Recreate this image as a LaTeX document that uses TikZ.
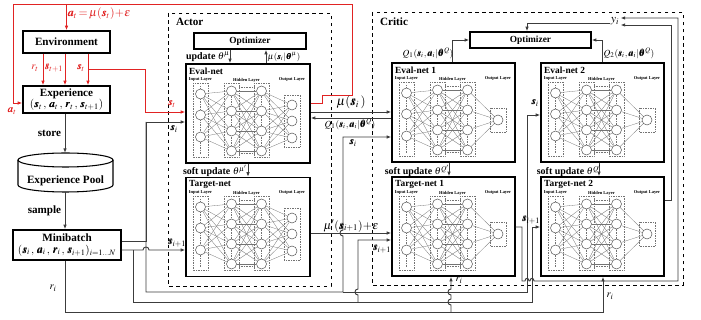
\documentclass[tikz,border=0pt]{standalone}
\usepackage{amsmath,amssymb}
\usepackage{mathptmx}
\usepackage{bm}
\usepackage{fontspec}
\setmainfont{Liberation Serif}
\usetikzlibrary{arrows.meta,positioning,calc}

\definecolor{actred}{RGB}{225,35,35}
\definecolor{wiregray}{RGB}{60,60,60}

\newcommand{\vs}{\bm{s}}
\newcommand{\va}{\bm{a}}

\tikzset{
  wire/.style={draw=wiregray, line width=0.8pt},
  redwire/.style={draw=actred, line width=0.8pt},
  blockbox/.style={draw, line width=1.1pt, font=\fontsize{9.5}{11}\selectfont\bfseries, align=center, inner sep=0pt},
  netbox/.style={draw, line width=1.1pt, minimum width=3.72cm, minimum height=2.97cm, inner sep=0pt},
  neuron/.style={circle, draw=black!70, line width=0.4pt, fill=white, minimum size=0.3cm, inner sep=0pt},
  layerbox/.style={draw=black!55, densely dotted, line width=0.4pt},
  link/.style={draw=black!55, line width=0.25pt},
  tinytext/.style={font=\fontsize{3.8}{4}\selectfont\bfseries, inner sep=0pt},
  nettitle/.style={font=\fontsize{8}{9}\selectfont\bfseries, anchor=west, inner sep=0pt},
  lbl/.style={font=\fontsize{9}{10}\selectfont, inner sep=0.5pt},
  smalllbl/.style={font=\fontsize{8.5}{9}\selectfont\bfseries, inner sep=0.5pt},
  redlbl/.style={lbl, text=actred},
}

% one small network drawn inside a box: name, left, top, title, output rows, output box top/bottom
\newcommand{\drawnet}[7]{%
  \begin{scope}[shift={(#2,#3)}]
    \draw[layerbox] (7,19) rectangle (22,93);
    \draw[layerbox] (38,19) rectangle (53,93);
    \draw[layerbox] (68,19) rectangle (83,93);
    \draw[layerbox] (98,#6) rectangle (114,#7);
    \draw[layerbox] (53,23) -- (68,23) (53,89) -- (68,89);
    \draw[densely dotted, black!55] (14.5,22) -- (14.5,90) (45.5,22) -- (45.5,90) (75.5,22) -- (75.5,90);
    \node[nettitle] (#1-title) at (3,7) {#4};
    \node[tinytext] (#1-lin) at (14.5,16) {Input Layer};
    \node[tinytext] (#1-lhid) at (60.5,16) {Hidden Layer};
    \node[tinytext] (#1-lout) at (106,16) {Output Layer};
    \foreach \k/\y in {1/30,2/51,3/73}
      \node[neuron] (#1-i\k) at (14.5,\y) {};
    \foreach \k/\y in {1/27,2/47,3/67,4/87} {
      \node[neuron] (#1-a\k) at (45.5,\y) {};
      \node[neuron] (#1-b\k) at (75.5,\y) {};
    }
    \foreach \y [count=\k] in {#5}
      \node[neuron] (#1-o\k) at (106,\y) {};
    \foreach \m in {1,2,3}
      \foreach \k in {1,...,4}
        \draw[link] (#1-i\m) -- (#1-a\k);
    \foreach \m in {1,...,4}
      \foreach \k in {1,...,4}
        \draw[link] (#1-a\m) -- (#1-b\k);
    \foreach \y [count=\m] in {#5}
      \foreach \k in {1,...,4}
        \draw[link] (#1-b\k) -- (#1-o\m);
  \end{scope}}

\begin{document}
\begin{tikzpicture}[x=0.03cm, y=-0.03cm, >={Latex[length=4pt,width=3pt]}]
  \useasboundingbox (0,0) rectangle (701,320);

  % left column
  \node (env) [blockbox, minimum width=2.61cm, minimum height=0.66cm] at (66.5,42) {Environment};
  \node (exper) [blockbox, minimum width=2.61cm, minimum height=0.81cm] at (66.5,99.5)
    {Experience\\[-1pt]$(\vs_t\,,\,\va_t\,,\,\bm{r}_t\,,\,\vs_{t+1})$};
  \draw[line width=0.9pt] (18,160) -- (18,185) arc[start angle=180, end angle=360, x radius=1.425cm, y radius=0.21cm] -- (113,160);
  \draw[line width=0.9pt] (65.5,160) ellipse[x radius=1.425cm, y radius=0.21cm];
  \node (pool) [font=\fontsize{9.5}{11}\selectfont\bfseries] at (65.5,181) {Experience Pool};
  \coordinate (pooltop) at (65,153);
  \coordinate (poolbot) at (65,192);
  \node (mini) [blockbox, minimum width=3.24cm, minimum height=0.9cm] at (67,245)
    {Minibatch\\[-1pt]$(\vs_i\,,\,\va_i\,,\,\bm{r}_i\,,\,\vs_{i+1})_{i=1\ldots N}$};

  % actor
  \draw[dashed, line width=0.8pt] (168,13) rectangle (331,286);
  \node (actorlbl) [font=\fontsize{9.5}{11}\selectfont\bfseries, anchor=west] at (172,22) {Actor};
  \node (aopt) [blockbox, font=\fontsize{8}{9}\selectfont\bfseries, minimum width=3.36cm, minimum height=0.48cm] at (250,41) {Optimizer};
  \node (aeval) [netbox] at (248,113.5) {};
  \drawnet{ae}{186}{64}{Eval-net}{41,57,74}{31}{83}
  \node (atgt) [netbox] at (248,227) {};
  \drawnet{at}{186}{177}{Target-net}{41,57,74}{31}{83}

  % critic
  \draw[dashed, line width=0.8pt] (372,12) rectangle (683,285);
  \node (criticlbl) [font=\fontsize{9.5}{11}\selectfont\bfseries, anchor=west] at (376,22) {Critic};
  \node (copt) [blockbox, font=\fontsize{8}{9}\selectfont\bfseries, minimum width=3.63cm, minimum height=0.48cm] at (530.5,40) {Optimizer};
  \node (eval1) [netbox, minimum width=3.69cm] at (453.5,112.5) {};
  \drawnet{ce1}{392}{63}{Eval-net 1}{57}{45}{69}
  \node (eval2) [netbox, minimum width=3.69cm] at (602.5,112.5) {};
  \drawnet{ce2}{541}{63}{Eval-net 2}{57}{45}{69}
  \node (tgt1) [netbox, minimum width=3.69cm] at (453.5,226.5) {};
  \drawnet{ct1}{392}{177}{Target-net 1}{57}{45}{69}
  \node (tgt2) [netbox, minimum width=3.69cm] at (602.5,226.5) {};
  \drawnet{ct2}{541}{177}{Target-net 2}{57}{45}{69}
  \node (yi) [font=\fontsize{10}{11}\selectfont, inner sep=1pt] at (615,21) {$y_i$};

  % red: environment loop
  \draw[redwire,->] (aeval.east |- 0,103) -| (322,95) -| (352,4) -| (13,103) -- (exper.west |- 0,103);
  \draw[redwire,->] (env.north |- 0,4) -- (env.north);
  \draw[redwire,->] (env.south -| 43,0) -- (exper.north -| 43,0);
  \draw[redwire,->] (env.south -| 65,0) -- (exper.north -| 65,0);
  \draw[redwire,->] (env.south -| 88,0) -- (exper.north -| 88,0);
  \coordinate (stsplit) at (88,69);
  \draw[redwire,->] (stsplit) -| (145,112) -- (aeval.west |- 0,112);
  \node (lact) [redlbl, font=\fontsize{10}{11}\selectfont] at (99,14) {$\va_t\!=\!\mu(\vs_t)\!+\!\varepsilon$};
  \node (lat) [redlbl] at (12,111) {$\va_t$};
  \node (lrt) [redlbl] at (35,68) {$r_t$};
  \node (lst1) [redlbl] at (54,68) {$\vs_{t+1}$};
  \node (lst) [redlbl] at (81,68) {$\vs_t$};
  \node (lsta) [redlbl] at (172,104) {$\vs_t$};

  % store and sample
  \draw[wire,->] (exper.south -| pooltop) -- (pooltop);
  \draw[wire,->] (poolbot) -- (mini.north -| poolbot);
  \node (lstore) [smalllbl, font=\fontsize{9.5}{11}\selectfont\bfseries, anchor=east] at (62,133) {store};
  \node (lsample) [smalllbl, font=\fontsize{9.5}{11}\selectfont\bfseries, anchor=east] at (62,211) {sample};

  % s_i from the minibatch
  \draw[wire,->] (mini.east |- 0,241) -| (146,122) -- (aeval.west |- 0,122);
  \draw[wire,->] (146,122) -- (146,292) -- (343,292) -- (343,236) .. controls (339,236) and (339,230) .. (343,230) -- (343,137) -- (eval1.west |- 0,137);
  \draw[wire,->] (343,292) -| (527,115) -- (eval2.west |- 0,115);
  \node (lsi1) [lbl] at (174,129) {$\vs_i$};
  \node (lsi2) [lbl] at (353,143) {$\vs_i$};
  \node (lsi3) [lbl] at (535,103) {$\vs_i$};

  % s_{i+1} from the minibatch
  \draw[wire,->] (mini.east |- 0,250) -- (143,250) .. controls (143,246) and (149,246) .. (149,250) -- (atgt.west |- 0,250);
  \draw[wire,->] (133,250) -- (133,302) -| (532,227) -- (tgt2.west |- 0,227);
  \draw[wire,->] (358,302) -- (358,295) .. controls (354,295) and (354,289) .. (358,289) -- (358,240) -- (tgt1.west |- 0,240);
  \node (lsn1) [lbl] at (177,243) {$\vs_{i+1}$};
  \node (lsn2) [lbl] at (382,249) {$\vs_{i+1}$};
  \node (lsn3) [lbl] at (531,220) {$\vs_{i+1}$};

  % r_i from the minibatch
  \draw[wire,->] (mini.south -| 65,0) -- (65,312) -| (tgt2.south -| 603,0);
  \draw[wire,->] (451,312) -- (451,305) .. controls (447,305) and (447,299) .. (451,299) -- (451,295) .. controls (447,295) and (447,289) .. (451,289) -- (tgt1.south -| 451,0);
  \node (lri1) [lbl] at (53,288) {$r_i$};
  \node (lri2) [lbl] at (459,280) {$r_i$};
  \node (lri3) [lbl] at (610,296) {$r_i$};

  % actor <-> critic
  \draw[wire,->] (aeval.east |- 0,112) -- (eval1.west |- 0,112);
  \draw[wire,->] (eval1.west |- 0,118) -- (aeval.east |- 0,118);
  \draw[wire,->] (atgt.east |- 0,233) -- (tgt1.west |- 0,233);
  \node (lmu) [lbl, font=\fontsize{11}{12}\selectfont] at (351,102) {$\mu(\vs_i\,)$};
  \node (lq1a) [lbl, font=\fontsize{8}{9}\selectfont] at (350,124) {$Q_1(\vs_i,\va_i|\bm{\theta}^{Q})$};
  \node (lmut) [lbl, font=\fontsize{10}{11}\selectfont] at (351,226) {$\mu'(\vs_{i+1})\!+\!\varepsilon$};

  % targets to y_i, y_i to optimizer
  \draw[wire,->] (tgt1.east |- 0,227) -- (522,227) -- (522,281) -- (525,281) .. controls (525,277.5) and (529,277.5) .. (529,281) -- (530,281) .. controls (530,277.5) and (534,277.5) .. (534,281) -- (678,281) |- (yi.east |- 0,18);
  \draw[wire,->] (tgt2.east |- 0,200) -| (671,25) -- (yi.east |- 0,25);
  \draw[wire,->] (yi.west |- 0,23) -| (copt.north -| 527,0);
  \draw[wire,->] (eval1.north -| 452,0) |- (copt.west);
  \draw[wire,->] (eval2.north -| 602,0) |- (copt.east);
  \node (lq1) [lbl, font=\fontsize{8}{9}\selectfont] at (428,53) {$Q_1(\vs_i,\va_i|\bm{\theta}^{Q})$};
  \node (lq2) [lbl, font=\fontsize{8}{9}\selectfont] at (629,53) {$Q_2(\vs_i,\va_i|\bm{\theta}^{Q})$};

  % optimizers and soft updates
  \draw[wire,->] (aopt.south -| 230,0) -- (aeval.north -| 230,0);
  \draw[wire,->] (aeval.north -| 266,0) -- (aopt.south -| 266,0);
  \node (lupd) [smalllbl] at (208,57) {update $\theta^{\mu}$};
  \node (lmus) [lbl, font=\fontsize{7.5}{8}\selectfont] at (284,57) {$\mu(\vs_i|\bm{\theta}^{\mu})$};
  \draw[wire,->] (aeval.south -| 248,0) -- (atgt.north -| 248,0);
  \draw[wire,->] (eval1.south -| 449,0) -- (tgt1.north -| 449,0);
  \draw[wire,->] (eval2.south -| 599,0) -- (tgt2.north -| 599,0);
  \node (lsoft1) [smalllbl] at (215,171) {soft update $\theta^{\mu'}$};
  \node (lsoft2) [smalllbl] at (417,171) {soft update $\theta^{Q'}$};
  \node (lsoft3) [smalllbl] at (569,171) {soft update $\theta^{Q'}$};
\end{tikzpicture}
\end{document}
